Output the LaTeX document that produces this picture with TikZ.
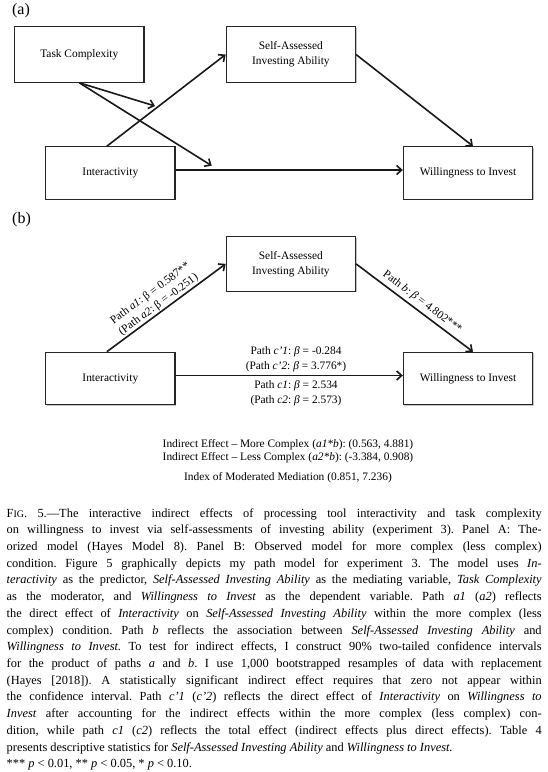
\documentclass[tikz,border=0pt]{standalone}
\usepackage{fontspec}
\setmainfont{Liberation Serif}
\usetikzlibrary{arrows.meta,shadows}
\frenchspacing
\newcommand\diagfont{\fontsize{11.4}{14.8}\selectfont}
\newcommand\capfont{\fontsize{12.4}{16.7}\selectfont}
\newcommand\capln[1]{\hbox to 535pt{#1}}
\tikzset{
  box/.style={draw=black!85, line width=1.1pt, fill=white, minimum width=129.3pt,
    minimum height=55.5pt, inner sep=2pt, align=center, font=\diagfont,
    drop shadow={shadow xshift=1pt, shadow yshift=-1pt, fill=black!45, opacity=0.5}},
  lowbox/.style={box, minimum height=52.5pt},
  arr/.style={line width=1.6pt, draw=black!90, -{Straight Barb[length=5pt,width=9pt]}},
  lab/.style={font=\diagfont, align=center, inner sep=1.5pt},
  panel/.style={font=\fontsize{16}{18}\selectfont, inner sep=0pt},
  capline/.style={anchor=base west, inner sep=0pt, font=\capfont},
}
\begin{document}
\frenchspacing
\begin{tikzpicture}[x=1pt,y=-1pt]
\fill[white] (0,0) rectangle (547,772);
\useasboundingbox (0,0) rectangle (547,772);

% ---------- panel (a)
\node[panel] (pa) at (21,11) {(a)};
\node[box] (task) at (79.3,54.5) {Task Complexity};
\node[box] (sa) at (290.85,54.5) {Self-Assessed\\Investing Ability};
\node[lowbox] (int) at (110.35,173) {Interactivity};
\node[lowbox] (will) at (468,173) {Willingness to Invest};
\coordinate (m1) at (155,106);
\coordinate (m2) at (211.7,165.7);
\draw[arr] ([xshift=-3.5pt]int.north) -- (sa.west);
\draw[arr] (sa.east) -- ([xshift=5pt]will.north);
\draw[arr] ([yshift=3pt]int.east) -- ([yshift=3pt]will.west);
\draw[arr] (task.south) -- (m1);
\draw[arr] (task.south) -- (m2);

% ---------- panel (b)
\node[panel] (pb) at (21.5,220) {(b)};
\node[box, minimum height=54.5pt] (sa2) at (290.85,263.9) {Self-Assessed\\Investing Ability};
\node[lowbox] (int2) at (110.35,378.5) {Interactivity};
\node[lowbox] (will2) at (468,378.5) {Willingness to Invest};
\draw[arr] ([xshift=-3.5pt]int2.north) -- (sa2.west)
  node[lab, pos=0.47, sloped, above, inner sep=1pt] {Path \textit{a1}: β = 0.587**\\[-1pt](Path \textit{a2}: β = -0.251)};
\draw[arr] (sa2.east) -- ([xshift=5pt]will2.north)
  node[lab, pos=0.52, sloped, above, inner sep=3pt] {Path \textit{b}: \textit{β} = 4.802***};
\draw[arr] ([yshift=3pt]int2.east) -- ([yshift=3pt]will2.west)
  node[lab, pos=0.53, above, inner sep=3pt] {Path \textit{c’1}: \textit{β} = -0.284\\(Path \textit{c’2}: \textit{β} = 3.776*)}
  node[lab, pos=0.53, below, inner sep=4pt] {Path \textit{c1}: \textit{β} = 2.534\\(Path \textit{c2}: \textit{β} = 2.573)};
\node[lab] (ind) at (288,451) {Indirect Effect – More Complex (\textit{a1*b}): (0.563, 4.881)\\[-1.8pt]Indirect Effect – Less Complex (\textit{a2*b}): (-3.384, 0.908)};
\node[lab] (idx) at (288,477.6) {Index of Moderated Mediation (0.851, 7.236)};

% ---------- caption
\node[capline] (c1) at (6.5,517) {\capln{F{\fontsize{9.9}{10}\selectfont IG}. 5.—The interactive indirect effects of processing tool interactivity and task complexity}};
\node[capline] (c2) at (6.5,533.72) {\capln{on willingness to invest via self-assessments of investing ability (experiment 3). Panel A: The-}};
\node[capline] (c3) at (6.5,550.44) {\capln{orized model (Hayes Model 8). Panel B: Observed model for more complex (less complex)}};
\node[capline] (c4) at (6.5,567.16) {\capln{condition. Figure 5 graphically depicts my path model for experiment 3. The model uses \textit{In-}}};
\node[capline] (c5) at (6.5,583.88) {\capln{\textit{teractivity} as the predictor, \textit{Self-Assessed Investing Ability} as the mediating variable, \textit{Task Complexity}}};
\node[capline] (c6) at (6.5,600.6) {\capln{as the moderator, and \textit{Willingness to Invest} as the dependent variable. Path \textit{a1} (\textit{a2}) reflects}};
\node[capline] (c7) at (6.5,617.32) {\capln{the direct effect of \textit{Interactivity} on \textit{Self-Assessed Investing Ability} within the more complex (less}};
\node[capline] (c8) at (6.5,634.04) {\capln{complex) condition. Path \textit{b} reflects the association between \textit{Self-Assessed Investing Ability} and}};
\node[capline] (c9) at (6.5,650.76) {\capln{\textit{Willingness to Invest.} To test for indirect effects, I construct 90\% two-tailed confidence intervals}};
\node[capline] (c10) at (6.5,667.48) {\capln{for the product of paths \textit{a} and \textit{b}. I use 1,000 bootstrapped resamples of data with replacement}};
\node[capline] (c11) at (6.5,684.2) {\capln{(Hayes [2018]). A statistically significant indirect effect requires that zero not appear within}};
\node[capline] (c12) at (6.5,700.92) {\capln{the confidence interval. Path \textit{c’1} (\textit{c’2}) reflects the direct effect of \textit{Interactivity} on \textit{Willingness to}}};
\node[capline] (c13) at (6.5,717.64) {\capln{\textit{Invest} after accounting for the indirect effects within the more complex (less complex) con-}};
\node[capline] (c14) at (6.5,734.36) {\capln{dition, while path \textit{c1} (\textit{c2}) reflects the total effect (indirect effects plus direct effects). Table 4}};
\node[capline] (c15) at (6.5,751.08) {presents descriptive statistics for \textit{Self-Assessed Investing Ability} and \textit{Willingness to Invest.}};
\node[capline] (c16) at (6.5,767.8) {*** \textit{p} < 0.01, ** \textit{p} < 0.05, * \textit{p} < 0.10.};
\end{tikzpicture}
\end{document}
